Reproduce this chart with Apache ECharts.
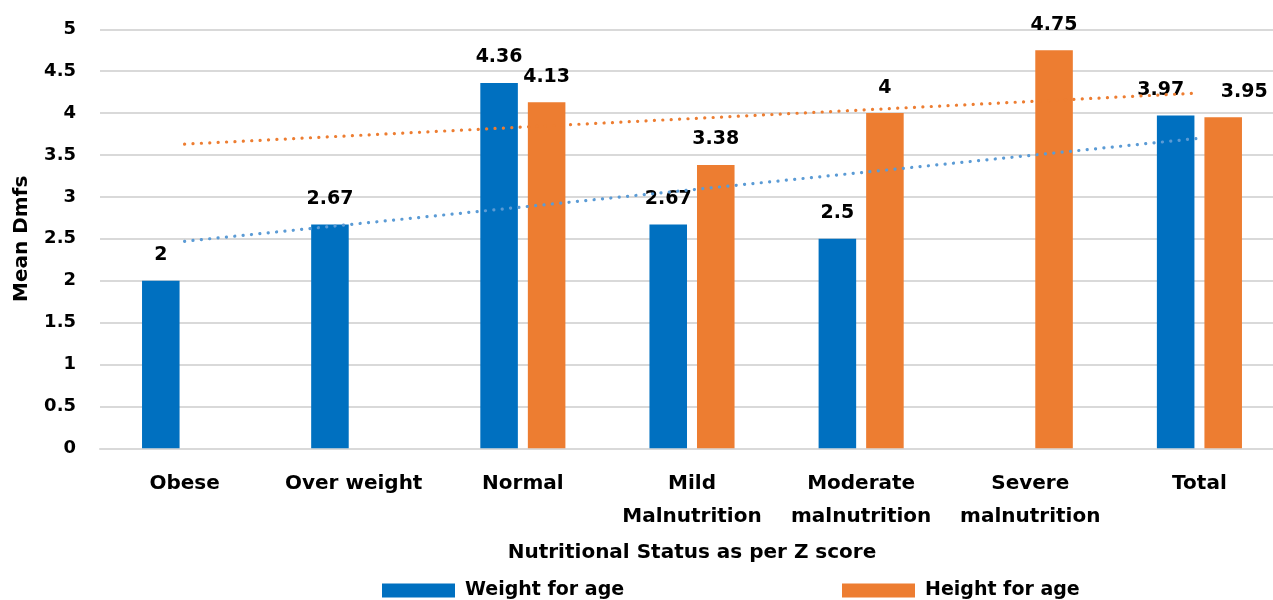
<!DOCTYPE html>
<html>
<head>
<meta charset="utf-8">
<script src="https://cdn.jsdelivr.net/npm/echarts@6/dist/echarts.min.js"></script>
<style>
  html, body { margin: 0; padding: 0; background: #fff; overflow: hidden; }
  /* plot area runs slightly past the right edge of the page */
  #chart { width: 1300px; height: 600px; }
</style>
</head>
<body>
<div id="chart"></div>
<script>
// Nutritional status categories (x axis)
const categories = ['Obese', 'Over weight', 'Normal', 'Mild\nMalnutrition', 'Moderate\nmalnutrition', 'Severe\nmalnutrition', 'Total'];

// Mean dmfs per category
const weightForAge = [2, 2.67, 4.36, 2.67, 2.5, null, 3.97];
const heightForAge = [null, null, 4.13, 3.38, 4, 4.75, 3.95];

// Linear trendline end values (first and last category)
const weightTrend = [2.47, null, null, null, null, null, 3.70];
const heightTrend = [3.63, null, null, null, null, null, 4.24];

// Y axis range
const yMin = 0, yMax = 5, yStep = 0.5;

const FONT = 'DejaVu Sans';
const BLUE = '#0070C0';
const ORANGE = '#ED7D31';

// Label nudges for the "Total" pair
const labelOffsets = { 'Weight for age': { 6: [-15, 0] }, 'Height for age': { 6: [21, 0] } };

function barData(name, values) {
  return values.map((v, i) => {
    const off = labelOffsets[name][i];
    return off ? { value: v, label: { offset: off } } : v;
  });
}

const chart = echarts.init(document.getElementById('chart'), null, { renderer: 'canvas' });

const barLabel = {
  show: true,
  position: 'top',
  distance: 16,
  color: '#000',
  fontFamily: FONT,
  fontWeight: 'bold',
  fontSize: 19
};

const legendText = { fontFamily: FONT, fontWeight: 'bold', fontSize: 19, color: '#000', padding: [0, 0, 0, 5] };

chart.setOption({
  animation: false,
  textStyle: { fontFamily: FONT },
  grid: { left: 100, top: 29.3, width: 1184, height: 419, containLabel: false },
  legend: [
    {
      data: ['Weight for age'], left: 382, top: 581, padding: 0,
      itemWidth: 73, itemHeight: 14, icon: 'rect', textStyle: legendText
    },
    {
      data: ['Height for age'], left: 842, top: 581, padding: 0,
      itemWidth: 73, itemHeight: 14, icon: 'rect', textStyle: legendText
    }
  ],
  xAxis: {
    type: 'category',
    data: categories,
    boundaryGap: true,
    name: 'Nutritional Status as per Z score',
    nameLocation: 'middle',
    nameGap: 94,
    nameTextStyle: { fontFamily: FONT, fontWeight: 'bold', fontSize: 20, color: '#000' },
    axisLine: { show: true, lineStyle: { color: '#d9d9d9', width: 2 } },
    axisTick: { show: false },
    axisLabel: {
      interval: 0, margin: 19, color: '#000',
      fontFamily: FONT, fontWeight: 'bold', fontSize: 20, lineHeight: 33
    }
  },
  yAxis: {
    type: 'value',
    min: yMin, max: yMax, interval: yStep,
    name: 'Mean Dmfs',
    nameLocation: 'middle',
    nameRotate: 90,
    nameGap: 68,
    nameTextStyle: { fontFamily: FONT, fontWeight: 'bold', fontSize: 20, color: '#000' },
    axisLine: { show: false },
    axisTick: { show: false },
    axisLabel: { margin: 24, color: '#000', fontFamily: FONT, fontWeight: 'bold', fontSize: 18 },
    splitLine: { show: true, lineStyle: { color: '#d9d9d9', width: 2 } }
  },
  series: [
    {
      name: 'Weight for age', type: 'bar',
      data: barData('Weight for age', weightForAge),
      barWidth: '22.2%', barGap: '26.6%',
      itemStyle: { color: BLUE },
      label: barLabel,
      z: 2
    },
    {
      name: 'Height for age', type: 'bar',
      data: barData('Height for age', heightForAge),
      barWidth: '22.2%', barGap: '26.6%',
      itemStyle: { color: ORANGE },
      label: barLabel,
      z: 2
    },
    {
      name: 'Weight trend', type: 'line',
      data: weightTrend, connectNulls: true,
      symbol: 'none', silent: true,
      lineStyle: { color: '#5B9BD5', width: 3.2, type: [0.1, 8.3], cap: 'round' },
      z: 3
    },
    {
      name: 'Height trend', type: 'line',
      data: heightTrend, connectNulls: true,
      symbol: 'none', silent: true,
      lineStyle: { color: ORANGE, width: 3.2, type: [0.1, 8.3], cap: 'round' },
      z: 3
    }
  ]
});
</script>
</body>
</html>
